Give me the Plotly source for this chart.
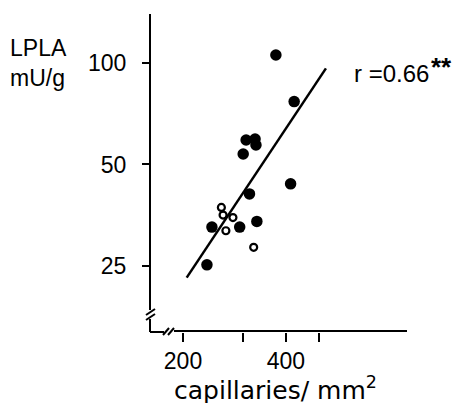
import plotly.graph_objects as go

# Data (log-log axes)
filled_x = [374, 423, 306, 325, 327, 300, 413, 313, 243, 293, 329, 235]
filled_y = [105.6, 76.8, 59.1, 59.5, 57.1, 53.7, 43.8, 40.9, 32.6, 32.6, 33.9, 25.2]
open_x = [259, 262, 280, 267, 322]
open_y = [37.3, 35.4, 34.8, 31.8, 28.4]
fit_x = [205, 524]
fit_y = [23.1, 96.4]
x_ticks = [200, 400]
x_tick_text = ["200", "400"]
x_minor_ticks = [300, 500]
y_ticks = [25, 50, 100]
y_tick_text = ["25", "50", "100"]

# The page body has an 8px default margin: size the figure so it fills the window.
OFF = 8
W, H = 461 - OFF, 411 - 2 * OFF
PW, PH = 257, 318
L, T = 150 - OFF, 14 - OFF
R, B = W - L - PW, H - T - PH


def px(x):  # page pixel -> paper
    return (x - OFF - L) / PW


def py(y):  # page pixel -> paper
    return (T + PH - (y - OFF)) / PH


FONT = "Liberation Sans"

fig = go.Figure()
fig.add_trace(go.Scatter(x=fit_x, y=fit_y, mode="lines",
                         line=dict(color="black", width=2.5), hoverinfo="skip"))
fig.add_trace(go.Scatter(x=filled_x, y=filled_y, mode="markers",
                         marker=dict(symbol="circle", size=11.5, color="black")))
fig.add_trace(go.Scatter(x=open_x, y=open_y, mode="markers",
                         marker=dict(symbol="circle-open", size=7, color="black",
                                     line=dict(width=2.2, color="black"))))

line = dict(color="black", width=2)
shapes = []
def seg(x0, y0, x1, y1):
    shapes.append(dict(type="line", xref="paper", yref="paper",
                       x0=px(x0), y0=py(y0), x1=px(x1), y1=py(y1), line=line))

# y axis with break
seg(150, 14, 150, 310)
seg(146, 315, 155, 309)
seg(146, 320, 155, 314)
seg(150, 319, 150, 332)
# x axis with break
seg(150, 332, 164, 332)
seg(163, 335, 169, 328)
seg(168, 335, 174, 328)
seg(174, 331, 407, 331)

fig.update_layout(
    width=W, height=H,
    margin=dict(l=L, r=R, t=T, b=B),
    paper_bgcolor="white", plot_bgcolor="white",
    showlegend=False,
    font=dict(family=FONT, color="black", size=22),
    shapes=shapes,
    xaxis=dict(type="log", range=[2.2044, 2.9566], showgrid=False, zeroline=False,
               showline=False, tickmode="array", tickvals=x_ticks, ticktext=x_tick_text,
               ticks="outside", ticklen=9, tickwidth=2, tickcolor="black",
               ticklabelstandoff=-1,
               minor=dict(tickmode="array", tickvals=x_minor_ticks, ticks="outside",
                          ticklen=9, tickwidth=2, tickcolor="black", showgrid=False),
               tickfont=dict(size=23, family=FONT)),
    yaxis=dict(type="log", range=[1.2022, 2.1452], showgrid=False, zeroline=False,
               showline=False, tickmode="array", tickvals=y_ticks, ticktext=y_tick_text,
               ticks="outside", ticklen=7, tickwidth=2, tickcolor="black",
               ticklabelstandoff=11,
               tickfont=dict(size=23, family=FONT)),
    annotations=[
        dict(text="LPLA<br>mU/g", xref="paper", yref="paper", x=px(8), y=py(33),
             xanchor="left", yanchor="top", align="left", showarrow=False,
             font=dict(size=23, family=FONT)),
        dict(text="capillaries/ mm<sup>2</sup>", xref="paper", yref="paper",
             x=px(275), y=py(388), xanchor="center", yanchor="middle", showarrow=False,
             font=dict(size=25, family="DejaVu Sans")),
        dict(text="r =0.66", xref="paper", yref="paper",
             x=px(352), y=py(74), xanchor="left", yanchor="middle", showarrow=False,
             font=dict(size=24, family=FONT)),
        dict(text="**", xref="paper", yref="paper",
             x=px(429), y=py(50), xanchor="left", yanchor="top", showarrow=False,
             font=dict(size=26, family="Liberation Sans", weight="bold")),
    ],
)

fig.write_html("out.html")
